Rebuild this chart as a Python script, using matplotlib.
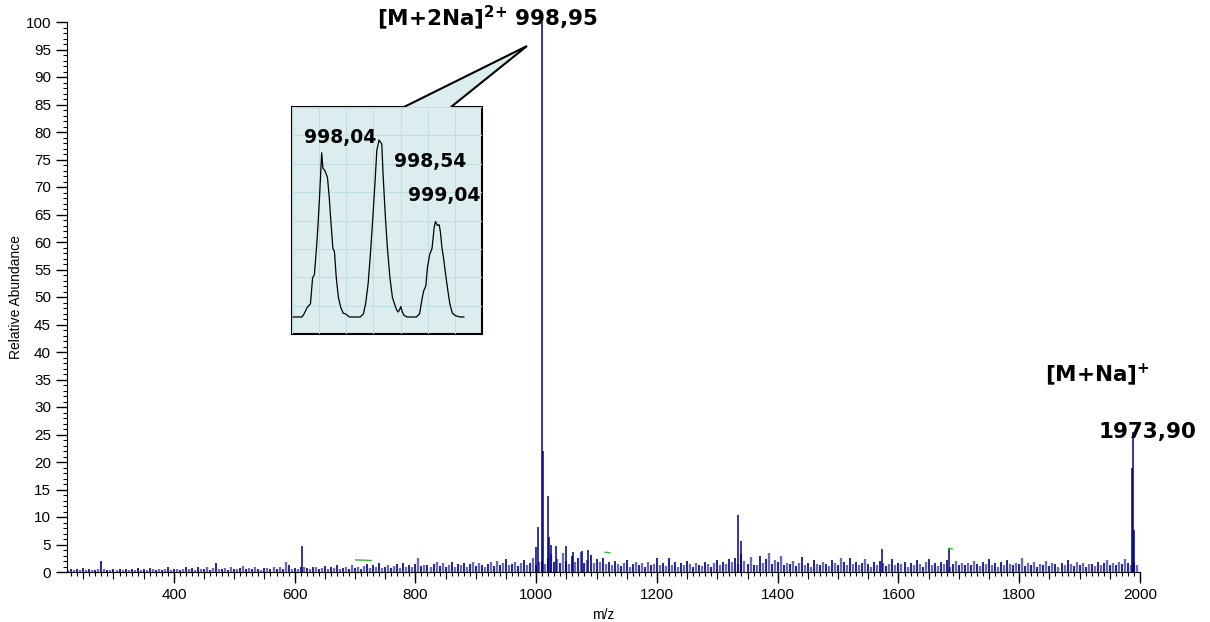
import numpy as np
import matplotlib
matplotlib.use("Agg")
import matplotlib.pyplot as plt
from matplotlib.patches import Polygon
from matplotlib.ticker import MultipleLocator, FixedLocator

# noise sticks, one every 5 m/z from 220 to 1995
noise_start = 220
noise_step = 5
noise_int = [
    0.5, 0.4, 0.6, 0.3, 0.5, 0.4, 0.7, 0.4, 0.5, 0.3, 0.4, 0.6, 2.0, 0.5, 0.4, 0.3, 0.6, 0.4, 0.5, 0.4,
    0.5, 0.3, 0.6, 0.4, 0.8, 0.4, 0.5, 0.3, 0.7, 0.5, 0.4, 0.6, 0.3, 0.5, 0.9, 0.4, 0.6, 0.5, 0.3, 0.6,
    1.0, 0.5, 0.7, 0.4, 0.9, 0.6, 0.5, 1.0, 0.4, 0.7, 1.6, 0.5, 0.6, 0.8, 0.4, 0.9, 0.6, 0.5, 0.7, 1.1,
    0.6, 0.8, 0.5, 0.9, 0.6, 0.4, 0.8, 0.7, 0.5, 1.0, 0.6, 0.9, 0.5, 1.9, 1.3, 0.6, 0.8, 0.5, 0.9, 1.0,
    0.7, 0.5, 0.9, 1.0, 0.6, 0.8, 1.1, 0.5, 0.9, 0.7, 1.2, 0.6, 0.8, 1.0, 0.5, 1.3, 0.7, 0.9, 0.6, 1.1,
    1.5, 0.7, 1.2, 0.9, 1.6, 0.8, 1.0, 1.3, 0.7, 1.1, 1.4, 0.8, 1.7, 0.9, 1.2, 1.0, 1.5, 2.5, 1.1, 1.3,
    1.2, 1.0, 1.4, 1.8, 1.1, 1.6, 0.9, 1.3, 1.9, 1.0, 1.5, 1.2, 1.7, 1.0, 1.4, 1.9, 1.1, 1.6, 1.3, 1.0,
    1.4, 1.8, 1.1, 2.0, 1.3, 1.6, 2.4, 1.2, 1.5, 1.9, 1.1, 1.7, 2.2, 1.3, 1.6, 2.5, 1.2, 1.8, 2.0, 1.4,
    2.6, 3.2, 1.8, 2.4, 1.6, 3.4, 2.0, 1.5, 2.9, 1.8, 2.5, 3.6, 1.7, 2.2, 3.1, 1.6, 2.3, 1.9, 2.6, 1.4,
    1.8, 1.2, 2.0, 1.5, 1.1, 1.7, 2.2, 1.0, 1.4, 1.8, 1.2, 1.6, 1.0, 1.9, 1.3, 1.5, 2.6, 1.2, 1.7, 1.1,
    2.5, 1.3, 1.8, 1.0, 1.6, 1.2, 2.0, 1.4, 0.9, 1.7, 1.3, 1.1, 1.9, 1.5, 1.0, 1.6, 2.2, 1.3, 1.8, 1.5,
    2.4, 1.9, 2.6, 1.4, 3.2, 2.0, 1.5, 2.8, 1.3, 1.2, 3.0, 1.6, 2.4, 3.4, 1.5, 2.1, 1.8, 2.9, 1.2, 1.6,
    1.4, 2.0, 1.1, 1.7, 2.8, 1.3, 1.6, 1.0, 2.2, 1.5, 1.2, 1.9, 1.4, 1.1, 2.1, 1.6, 1.3, 2.6, 1.8, 1.2,
    2.5, 1.5, 1.9, 1.2, 1.7, 2.3, 1.4, 1.0, 1.8, 1.3, 2.0, 1.6, 1.1, 1.5, 2.3, 1.2, 1.7, 1.4, 1.9, 1.0,
    1.6, 1.2, 2.2, 1.5, 1.0, 1.8, 2.4, 1.3, 1.6, 1.1, 1.9, 1.4, 2.1, 1.0, 1.5, 2.0, 1.3, 1.7, 1.2, 1.6,
    1.3, 2.0, 1.5, 1.1, 1.8, 1.4, 2.3, 1.2, 1.6, 1.0, 1.9, 1.3, 2.1, 1.5, 1.2, 1.7, 1.4, 2.5, 1.1, 1.6,
    1.2, 1.8, 1.0, 1.5, 1.3, 2.0, 1.1, 1.7, 1.4, 1.0, 1.6, 1.2, 2.2, 1.5, 1.1, 1.8, 1.3, 1.6, 1.0, 1.4,
    1.5, 1.1, 1.8, 1.2, 1.6, 2.1, 1.3, 1.7, 1.2, 1.9, 1.4, 2.4, 1.6, 1.3, 1.8, 1.2,
]
noise_mz = noise_start + noise_step * np.arange(len(noise_int))

# the bigger sticks
peak_mz = [613, 1000, 1003, 1010, 1011.6, 1019.8, 1021.5, 1025, 1033, 1050, 1061, 1076, 1086,
           1334, 1339, 1573, 1683, 1986.5, 1988, 1989.5]
peak_int = [4.7, 4.5, 8.2, 100, 22, 13.8, 6.4, 5.0, 4.7, 4.7, 3.6, 3.8, 4.0,
            10.4, 5.6, 4.2, 4.2, 19, 25.5, 7.6]

# small green marks (x0, x1, y)
green_x0 = [701, 1114, 1683]
green_x1 = [727, 1122, 1689]
green_y = [2.2, 3.6, 4.3]

# zoomed isotope profile for the inset
inset_mz = [997.789, 997.866, 997.885, 997.913, 997.941, 997.960, 997.976, 997.996, 998.009, 998.023,
            998.040, 998.051, 998.065, 998.078, 998.092, 998.106, 998.120, 998.139, 998.153, 998.169,
            998.188, 998.208, 998.230, 998.257, 998.285, 998.381, 998.409, 998.428, 998.450, 998.472,
            998.491, 998.511, 998.527, 998.547, 998.560, 998.571, 998.582, 998.602, 998.621, 998.643,
            998.665, 998.693, 998.712, 998.726, 998.739, 998.753, 998.767, 998.795, 998.877, 998.905,
            998.924, 998.941, 998.960, 998.974, 998.993, 999.015, 999.034, 999.045, 999.062, 999.078,
            999.089, 999.103, 999.117, 999.131, 999.153, 999.172, 999.194, 999.222, 999.263, 999.296]
inset_int = [0, 0, 1.8, 5.5, 7.4, 22.1, 23.9, 40.5, 53.4, 70.0,
             92.6, 83.8, 82.9, 81.0, 78.3, 68.1, 55.2, 38.7, 36.8, 22.1,
             11.0, 5.5, 2.2, 1.5, 0, 0, 1.8, 7.4, 18.4, 36.8,
             55.2, 75.5, 93.9, 99.8, 98.5, 97.6, 81.0, 57.1, 38.7, 22.1,
             11.0, 5.5, 2.8, 3.7, 5.9, 2.8, 0.9, 0, 0, 1.8,
             9.2, 14.7, 17.5, 27.6, 35.0, 38.7, 50.6, 53.8, 51.6, 52.0,
             47.9, 38.7, 33.1, 25.8, 15.6, 7.4, 2.2, 0.7, 0, 0]

W, H = 1210, 622
fig = plt.figure(figsize=(W / 100, H / 100), dpi=100)
ax = fig.add_axes([67 / W, 50 / H, 1073 / W, 550 / H])

navy = '#000080'
light = '#6a6ab8'
ax.vlines(noise_mz[1::2], 0, noise_int[1::2], color=light, lw=1.7)
ax.vlines(noise_mz[::2], 0, noise_int[::2], color=navy, lw=1.2)
ax.vlines(peak_mz, 0, peak_int, color=navy, lw=1.1)
for x0, x1, y in zip(green_x0, green_x1, green_y):
    ax.plot([x0, x1], [y, y - 0.1], color='#33bb33', lw=1)

ax.set_xlim(223, 2000)
ax.set_ylim(0, 100)
for s in ['top', 'right']:
    ax.spines[s].set_visible(False)
ax.xaxis.set_major_locator(FixedLocator([400, 600, 800, 1000, 1200, 1400, 1600, 1800, 2000]))
ax.xaxis.set_minor_locator(MultipleLocator(10))
ax.yaxis.set_major_locator(MultipleLocator(5))
ax.yaxis.set_minor_locator(MultipleLocator(1))
ax.tick_params(which='major', length=8, width=1, labelsize=11)
ax.tick_params(which='minor', length=3, width=0.8)
for lab in ax.get_xticklabels() + ax.get_yticklabels():
    lab.set_fontfamily('Liberation Sans')

# medium ticks every 50
sec = ax.secondary_xaxis('bottom')
sec.set_xticks(np.arange(250, 2001, 50))
sec.tick_params(length=5, width=0.8, labelbottom=False)
sec.spines['bottom'].set_visible(False)

ax.set_xlabel('m/z', fontsize=10, family='Liberation Sans', labelpad=4)
ax.set_ylabel('Relative Abundance', fontsize=10, family='Liberation Sans', labelpad=2)

bold = dict(fontweight='bold', fontsize=15.5, ha='center', va='center')
ax.text(919, 100.7, r'[M+2Na]$^{\mathbf{2{+}}}$ 998,95', clip_on=False, **bold)
ax.text(1929, 35.8, r'[M+Na]$^{\mathbf{{+}}}$', **bold)
ax.text(2013, 25.5, '1973,90', clip_on=False, **bold)

# callout box
def fp(x, y):
    return (x / W, 1 - y / H)

callout = Polygon([fp(292, 107), fp(404, 107), fp(527, 46), fp(451, 107), fp(482, 107),
                   fp(482, 334), fp(292, 334)], closed=True, transform=fig.transFigure,
                  facecolor='#dcedef', edgecolor='black', lw=1.5, zorder=3)
fig.patches.append(callout)

ins = fig.add_axes([292 / W, (H - 334) / H, 190 / W, 227 / H], zorder=4)
ins.patch.set_alpha(0)
ins.plot(inset_mz, inset_int, color='black', lw=0.9)
ins.set_xlim(997.778, 997.778 + 190 / 121)
ins.set_ylim(-8.7, 116.7)
ins.set_xticks(998.018 + 0.2397 * np.arange(-1, 7))
ins.set_yticks(102.4 - 16.0 * np.arange(-1, 8))
ins.grid(True, color='#bfdfe3', lw=0.7)
ins.tick_params(length=0, labelbottom=False, labelleft=False)
for s in ins.spines.values():
    s.set_visible(False)

small = dict(fontweight='bold', fontsize=13.5, ha='center', va='center')
ins.text(998.199, 101.3, '998,04', **small)
ins.text(999.001, 87.5, '998,54', **small)
ins.text(999.125, 68.7, '999,04', clip_on=False, **small)

fig.savefig('out.png', dpi=100)
